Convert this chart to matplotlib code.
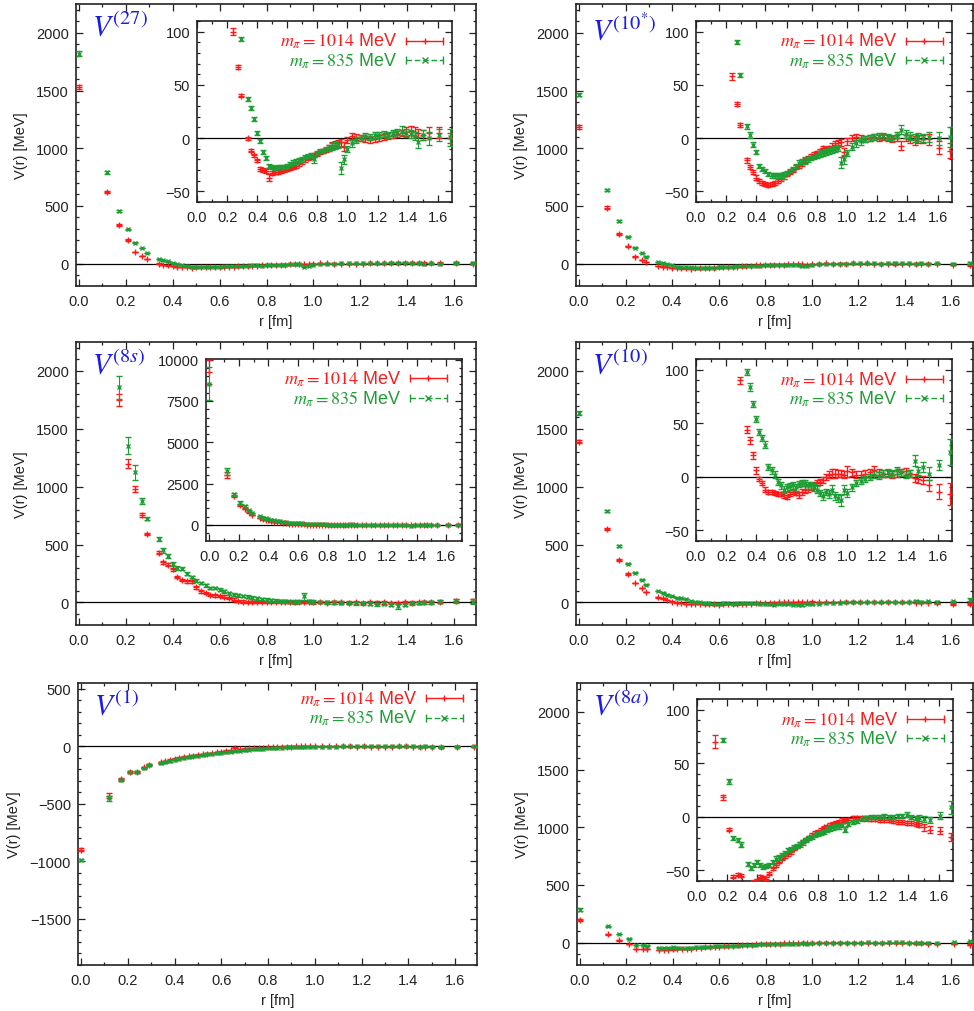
import numpy as np
import matplotlib
matplotlib.use("Agg")
import matplotlib.pyplot as plt
from matplotlib.ticker import MultipleLocator, FormatStrFormatter

plt.rcParams['font.family'] = ['Liberation Sans', 'DejaVu Sans']
plt.rcParams['mathtext.fontset'] = 'stix'

RED = '#ff1a1a'
GREEN = '#1f9e35'
BLUE = '#1c1ce8'
INK = '#222222'

# lattice distances r [fm] (shared by all channels)
r_fm = [
    0.00, 0.12, 0.17, 0.21, 0.24, 0.27, 0.29, 0.34, 0.36, 0.38,
    0.40, 0.42, 0.44, 0.46, 0.48, 0.50, 0.52, 0.54, 0.56, 0.58,
    0.60, 0.62, 0.64, 0.66, 0.68, 0.70, 0.72, 0.74, 0.76, 0.78,
    0.80, 0.82, 0.84, 0.86, 0.88, 0.90, 0.92, 0.94, 0.96, 0.98,
    1.00, 1.03, 1.06, 1.09, 1.12, 1.15, 1.18, 1.21, 1.24, 1.27,
    1.30, 1.33, 1.36, 1.39, 1.42, 1.45, 1.47, 1.50, 1.54, 1.61,
    1.68]

label_1014 = r'$m_{\pi}{=}1014$ MeV'
label_835 = r'$m_{\pi}{=}835$ MeV'

# ---- V(27) ----
v27_red = [
    1530, 620, 335, 205, 100, 67, 40, 0, -12, -16,
    -21, -29, -30, -31, -37, -33, -32, -32, -31, -30,
    -29, -28, -27, -26, -24, -22, -20, -19, -18, -16,
    -15, -13, -12, -11, -9, -7, -6, -5, -4, -8,
    -2, 2, 1, 0, -1, -2, -1, 0, 1, 2,
    3, 4, 5, 6, 7, 6, 5, 3, 5, 5,
    0]
v27_red_err = [
    20, 12, 8, 6, 3, 2, 1.5, 1.5, 1.5, 1.5,
    1.5, 2, 2, 2, 3, 2, 2, 2, 2, 2,
    2, 2, 2, 2, 2, 2, 2, 2, 2, 2,
    2, 2, 2, 2, 3, 3, 3, 3, 3, 4,
    3, 3, 3, 3, 3, 3, 3, 3, 3, 3,
    3, 3, 3, 4, 4, 4, 4, 5, 5, 5,
    5]
v27_green = [
    1820, 790, 455, 295, 180, 135, 93, 37, 28, 18,
    5, -3, -13, -19, -26, -27, -28, -27, -27, -27,
    -26, -24, -23, -22, -21, -20, -18, -17, -16, -20,
    -14, -12, -12, -10, -9, -8, -7, -6, -28, -20,
    -10, -5, -2, 0, 2, 1, 3, 3, 4, 3,
    5, 6, 7, 5, 4, 2, -4, 3, 0, 3,
    1]
v27_green_err = [
    20, 12, 8, 6, 4, 3, 2, 2, 2, 2,
    2, 2, 2, 2, 2, 2, 2, 2, 2, 2,
    2, 2, 2, 2, 2, 2, 2, 2, 2, 3,
    2, 2, 2, 2, 3, 3, 3, 3, 6, 4,
    3, 3, 3, 3, 3, 3, 3, 3, 3, 3,
    3, 3, 4, 4, 4, 4, 5, 5, 6, 6,
    8]

# ---- V(10*) ----
v10s_red = [
    1185, 485, 255, 148, 58, 32, 12, -21, -27, -32,
    -37, -40, -42, -43, -44, -43, -42, -40, -38, -36,
    -34, -32, -30, -27, -26, -24, -21, -19, -17, -15,
    -14, -12, -9, -10, -9, -8, -6, -5, -4, -13,
    -3, 0, 1, 0, -1, 0, 1, 0, 1, 0,
    -1, 0, -7, 0, -1, -2, -1, -1, -1, -9,
    -12]
v10s_red_err = [
    15, 10, 8, 5, 3, 2, 2, 2, 2, 2,
    2, 2, 2, 2, 2, 2, 2, 2, 2, 2,
    2, 2, 2, 2, 2, 2, 2, 2, 2, 2,
    2, 2, 2, 2, 2, 3, 3, 3, 3, 4,
    3, 3, 3, 3, 3, 3, 3, 3, 3, 3,
    3, 3, 4, 3, 4, 4, 4, 4, 5, 6,
    7]
v10s_green = [
    1465, 638, 366, 234, 136, 90, 59, 11, 3, -6,
    -13, -26, -29, -31, -34, -35, -35, -35, -35, -35,
    -33, -31, -29, -26, -23, -22, -21, -20, -19, -18,
    -17, -15, -14, -13, -12, -11, -10, -9, -23, -20,
    -14, -8, -5, -3, -1, 0, 1, 2, 2, 1,
    0, 3, 8, 4, 2, 0, 1, 0, 1, 0,
    1]
v10s_green_err = [
    15, 10, 8, 5, 3, 2, 2, 2, 3, 2,
    2, 2, 2, 2, 2, 2, 2, 2, 2, 3,
    2, 2, 2, 2, 2, 2, 3, 2, 2, 2,
    2, 3, 3, 3, 3, 3, 3, 3, 5, 4,
    3, 3, 3, 3, 3, 3, 3, 3, 3, 3,
    3, 3, 4, 4, 4, 4, 4, 4, 5, 6,
    9]

# ---- V(8s) ----
v8s_red = [
    9250, 3030, 1750, 1200, 980, 755, 590, 430, 345, 325,
    285, 220, 192, 182, 182, 130, 95, 80, 67, 60,
    55, 50, 40, 25, 15, 8, 6, 5, 4, 3,
    5, 3, 2, 4, 2, 1, 0, 3, 2, 1,
    0, 1, -2, 0, 1, -1, 0, -2, 1, -1,
    0, -2, -4, 0, -3, 0, 1, 2, 8, 15,
    12]
v8s_red_err = [
    750, 200, 50, 40, 30, 20, 10, 12, 15, 12,
    12, 12, 10, 10, 10, 10, 10, 10, 10, 10,
    10, 10, 10, 10, 10, 10, 10, 10, 10, 10,
    10, 10, 10, 10, 10, 10, 10, 10, 10, 10,
    10, 10, 10, 10, 10, 10, 10, 10, 10, 10,
    10, 10, 12, 12, 12, 12, 12, 12, 12, 15,
    20]
v8s_green = [
    8550, 3240, 1860, 1355, 1125, 877, 723, 545, 450, 400,
    333, 298, 292, 249, 220, 188, 168, 148, 124, 124,
    110, 95, 80, 67, 60, 55, 48, 42, 36, 30,
    25, 20, 16, 12, 10, 8, 6, 5, 52, 10,
    6, 4, 2, 0, -2, -4, -6, -8, -10, -15,
    -12, -18, -35, -20, -8, -4, 0, 2, 5, 12,
    8]
v8s_green_err = [
    1000, 220, 100, 70, 65, 25, 15, 18, 20, 15,
    15, 15, 15, 12, 12, 12, 12, 12, 12, 12,
    12, 12, 12, 12, 12, 12, 12, 12, 12, 12,
    12, 12, 12, 12, 12, 12, 12, 12, 30, 12,
    12, 12, 12, 12, 12, 12, 12, 12, 12, 12,
    12, 12, 20, 15, 12, 12, 12, 12, 12, 15,
    20]

# ---- V(10) ----
v10_red = [
    1389, 637, 370, 246, 168, 124, 90, 44, 34, 20,
    6, -2, -6, -12, -14, -14, -15, -16, -16, -17,
    -19, -16, -14, -15, -17, -14, -12, -11, -9, -8,
    -6, -5, -3, 0, 2, 3, 3, 3, 3, 2,
    5, 4, 2, 2, 3, 4, 6, 4, 3, 3,
    2, 3, 4, 5, 3, -1, -2, -3, -8, -14,
    -16]
v10_red_err = [
    15, 10, 8, 5, 4, 3, 3, 3, 3, 3,
    3, 2, 2, 2, 2, 2, 2, 2, 2, 3,
    2, 2, 2, 2, 3, 3, 3, 3, 3, 3,
    3, 3, 3, 3, 3, 4, 4, 3, 3, 3,
    5, 3, 3, 3, 3, 3, 4, 3, 3, 3,
    3, 3, 3, 3, 3, 4, 4, 4, 5, 7,
    10]
v10_green = [
    1638, 790, 486, 336, 255, 197, 153, 98, 84, 68,
    54, 42, 36, 30, 9, 6, 2, -5, -8, -12,
    -10, -9, -8, -10, -7, -6, -6, -8, -8, -10,
    -12, -15, -18, -14, -16, -12, -18, -20, -22, -12,
    -15, -10, -6, -4, -2, 0, 2, 1, 3, 4,
    3, 6, 4, 2, 3, 15, 5, 9, 3, 11,
    23]
v10_green_err = [
    15, 10, 8, 5, 4, 3, 3, 3, 4, 3,
    3, 3, 3, 3, 3, 3, 3, 3, 3, 3,
    3, 3, 3, 3, 3, 3, 3, 3, 3, 3,
    3, 3, 4, 3, 4, 4, 4, 4, 5, 4,
    4, 3, 3, 3, 3, 3, 3, 3, 3, 3,
    3, 3, 3, 3, 3, 5, 4, 5, 6, 5,
    12]

# ---- V(1) ----
v1_red = [
    -897, -430, -284, -220, -220, -182, -159, -139, -130, -118,
    -108, -100, -92, -86, -81, -74, -68, -63, -58, -52,
    -46, -40, -35, -14, -25, -20, -17, -15, -13, -11,
    -9, -7, -6, -4, -3, -2, -1, 0, 1, -1,
    0, 1, 0, -1, 0, 1, -2, -1, -3, -2,
    -4, -3, -1, 0, -2, -5, -3, -5, -8, -3,
    -2]
v1_red_err = [
    15, 20, 10, 8, 8, 6, 6, 5, 5, 5,
    5, 5, 4, 4, 4, 4, 4, 4, 4, 4,
    4, 4, 4, 4, 4, 4, 4, 4, 4, 4,
    4, 4, 4, 4, 4, 4, 4, 4, 4, 4,
    4, 4, 4, 4, 4, 4, 4, 4, 4, 4,
    4, 4, 4, 4, 4, 5, 5, 5, 6, 6,
    8]
v1_green = [
    -987, -452, -292, -226, -226, -191, -162, -148, -139, -128,
    -118, -108, -100, -94, -87, -82, -76, -70, -66, -60,
    -55, -50, -46, -42, -38, -34, -30, -27, -24, -21,
    -18, -16, -14, -12, -10, -9, -8, -7, -6, -5,
    -4, -3, -2, -2, -1, -1, 0, 0, 1, 0,
    0, 1, 0, -1, 0, -2, -1, -3, -5, -3,
    -1]
v1_green_err = [
    12, 20, 10, 8, 8, 6, 6, 5, 5, 5,
    5, 5, 4, 4, 4, 4, 4, 4, 4, 4,
    4, 4, 4, 4, 4, 4, 4, 4, 4, 4,
    4, 4, 4, 4, 4, 4, 4, 4, 4, 4,
    4, 4, 4, 4, 4, 4, 4, 4, 4, 4,
    4, 4, 4, 4, 4, 5, 5, 5, 6, 6,
    8]

# ---- V(8a) ----
v8a_red = [
    196, 70, 18, -12, -56, -54, -55, -63, -62, -61,
    -60, -56, -57, -58, -53, -48, -45, -42, -39, -37,
    -35, -33, -30, -28, -25, -23, -21, -19, -17, -15,
    -14, -12, -10, -9, -8, -7, -6, -5, -3, -4,
    -3, -1.5, -1, -1, -1.5, -2, -2, -3, -3, -3,
    -4, -5, -5, -6, -6, -7, -8, -10, -12, -13,
    -19]
v8a_red_err = [
    10, 6, 2, 1.5, 1.5, 1.5, 1.5, 1.5, 1.5, 1.5,
    1.5, 1.5, 1.5, 1.5, 1.5, 1.5, 1.5, 1.5, 1.5, 1.5,
    1.5, 1.5, 1.5, 1.5, 1.5, 1.5, 1.5, 1.5, 1.5, 1.5,
    1.5, 1.5, 1.5, 1.5, 2, 2, 2, 2, 2, 2,
    2, 2, 2, 2, 2, 2, 2, 2, 2, 2,
    2, 2, 2, 2, 2, 2, 2, 3, 3, 3,
    4]
v8a_green = [
    286, 139, 72, 33, -20, -22, -26, -44, -48, -45,
    -42, -45, -47, -46, -45, -42, -39, -38, -36, -34,
    -31, -30, -28, -27, -26, -24, -22, -20, -19, -17,
    -16, -15, -14, -12, -11, -10, -9, -9, -8, -12,
    -7, -5, -4, -2, -1, 0, 0, 0, 1, 0,
    0, 1, 1, 2, 0, -1, -1, -2, -3, 1,
    9]
v8a_green_err = [
    10, 6, 2, 2, 2, 2, 2, 2, 2, 2,
    2, 2, 2, 2, 2, 2, 2, 2, 2, 2,
    2, 2, 2, 2, 2, 2, 2, 2, 2, 2,
    2, 2, 2, 2, 2, 2, 2, 2, 2, 2,
    2, 2, 2, 2, 2, 2, 2, 2, 2, 2,
    2, 2, 2, 2, 2, 2, 3, 3, 3, 3,
    6]


def px_box(left, top, right, bottom, W=974, H=1012):
    # pixel box -> figure fraction [x0, y0, w, h]
    return [left / W, 1 - bottom / H, (right - left) / W, (bottom - top) / H]


def style(ax, ymaj, ymin, xpad=6):
    ax.xaxis.set_major_locator(MultipleLocator(0.2))
    ax.xaxis.set_minor_locator(MultipleLocator(0.1))
    ax.xaxis.set_major_formatter(FormatStrFormatter('%.1f'))
    ax.yaxis.set_major_locator(MultipleLocator(ymaj))
    ax.yaxis.set_minor_locator(MultipleLocator(ymin))
    ax.tick_params(which='both', direction='in', top=True, right=True,
                   labelsize=10.5, labelcolor=INK, color=INK, width=0.9)
    ax.tick_params(which='major', length=5)
    ax.tick_params(which='minor', length=2.5)
    ax.tick_params(axis='x', pad=xpad)
    ax.tick_params(axis='y', pad=5)
    for sp in ax.spines.values():
        sp.set_linewidth(1.2)
        sp.set_color(INK)


def plot_data(ax, vr, er, vg, eg):
    ax.axhline(0, color='k', lw=0.9, zorder=2)
    ax.errorbar(r_fm, vr, yerr=er, fmt='+', color=RED, ms=5, mew=1.0,
                elinewidth=0.8, capsize=2, capthick=0.8, zorder=3)
    ax.errorbar(r_fm, vg, yerr=eg, fmt='x', color=GREEN, ms=3.5, mew=1.0,
                elinewidth=0.8, capsize=2, capthick=0.8, zorder=4)


def draw_key(ax, xt, x0, x1, y1, y2):
    rows = [(y1, RED, '+', '-', label_1014), (y2, GREEN, 'x', (0, (4, 2)), label_835)]
    for y, col, mk, ls, lab in rows:
        ax.text(xt, y, lab, transform=ax.transAxes, ha='right', va='center',
                color=col, fontsize=13)
        ax.plot([x0, x1], [y, y], transform=ax.transAxes, color=col, lw=1, ls=ls)
        ax.plot([x0, x1], [y, y], transform=ax.transAxes, ls='none',
                marker='|', ms=6, mew=1, color=col)
        ax.plot([(x0 + x1) / 2], [y], transform=ax.transAxes, ls='none',
                marker=mk, ms=4, mew=1, color=col)


panels = [
    dict(name=r'$V^{(27)}$', main=(76, 5, 476, 287), inset=(197, 22, 452, 203),
         data=(v27_red, v27_red_err, v27_green, v27_green_err)),
    dict(name=r'$V^{(10^{*})}$', main=(576, 5, 973, 287), inset=(696, 22, 952, 203),
         data=(v10s_red, v10s_red_err, v10s_green, v10s_green_err)),
    dict(name=r'$V^{(8s)}$', main=(76, 343, 476, 626), inset=(206, 360, 462, 542),
         data=(v8s_red, v8s_red_err, v8s_green, v8s_green_err)),
    dict(name=r'$V^{(10)}$', main=(576, 343, 973, 626), inset=(696, 360, 952, 542),
         data=(v10_red, v10_red_err, v10_green, v10_green_err)),
    dict(name=r'$V^{(1)}$', main=(78, 684, 477, 966), inset=None,
         data=(v1_red, v1_red_err, v1_green, v1_green_err)),
    dict(name=r'$V^{(8a)}$', main=(577, 684, 973, 966), inset=(697, 700, 953, 882),
         data=(v8a_red, v8a_red_err, v8a_green, v8a_green_err)),
]

fig = plt.figure(figsize=(9.74, 10.12), dpi=100)

for p in panels:
    ax = fig.add_axes(px_box(*p['main']))
    plot_data(ax, *p['data'])
    ax.set_xlim(-0.013, 1.694)
    if p['inset'] is None:
        ax.set_ylim(-1900, 550)
    else:
        ax.set_ylim(-195, 2250)
    style(ax, 500, 100)
    ax.set_xlabel('r [fm]', fontsize=10.5, color=INK, labelpad=4)
    ax.set_ylabel('V(r) [MeV]', fontsize=10.5, color=INK, labelpad=6)
    ax.text(0.04, 0.975, p['name'], transform=ax.transAxes, ha='left', va='top',
            color=BLUE, fontsize=21)
    if p['inset'] is None:
        draw_key(ax, 0.851, 0.872, 0.965, 0.946, 0.877)
        continue

    axi = fig.add_axes(px_box(*p['inset']))
    axi.set_facecolor('white')
    plot_data(axi, *p['data'])
    if p['name'] == r'$V^{(8s)}$':
        axi.set_xlim(-0.022, 1.707)
        axi.set_ylim(-970, 10040)
        style(axi, 2500, 500)
        draw_key(axi, 0.766, 0.795, 0.941, 0.893, 0.786)
    else:
        axi.set_xlim(0, 1.695)
        axi.set_ylim(-60, 110)
        style(axi, 50, 10)
        draw_key(axi, 0.787, 0.82, 0.965, 0.891, 0.784)

fig.savefig('out.png', dpi=100)
